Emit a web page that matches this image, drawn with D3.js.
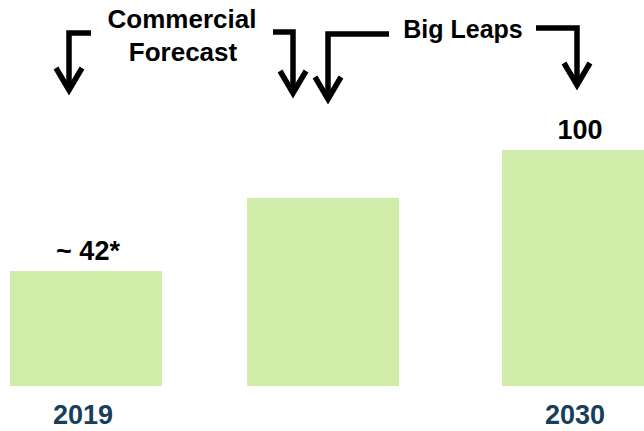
<!DOCTYPE html>
<html>
<head>
<meta charset="utf-8">
<script src="https://cdn.jsdelivr.net/npm/d3@7"></script>
<style>
  html, body { margin: 0; padding: 0; background: #fff; }
  svg { display: block; }
  text { font-family: "Liberation Sans", Arial, sans-serif; font-weight: bold; }
</style>
</head>
<body>
<script>
// Data
const categories = ["2019", "", "2030"];
const years = [2019, 2024.3, 2030];
const values = [48.7, 79.7, 100];
const valueLabels = ["~ 42*", "", "100"];
const annotations = [
  { lines: ["Commercial", "Forecast"] },
  { lines: ["Big Leaps"] }
];

const W = 644, H = 431;
const svg = d3.select("body").append("svg").attr("width", W).attr("height", H);

const x = d3.scaleLinear().domain([2019, 2030]).range([86, 578]);
const y = d3.scaleLinear().domain([0, 100]).range([386, 150]);
const barW = 152;

const data = categories.map((c, i) => ({ cat: c, year: years[i], v: values[i], lbl: valueLabels[i] }));

svg.selectAll("rect.bar").data(data).enter().append("rect")
  .attr("class", "bar")
  .attr("x", d => x(d.year) - barW / 2)
  .attr("width", barW)
  .attr("y", d => y(d.v))
  .attr("height", d => y(0) - y(d.v))
  .attr("fill", "#d1eca9");

svg.selectAll("text.val").data(data).enter().append("text")
  .attr("class", "val")
  .attr("x", d => x(d.year) + 2)
  .attr("y", d => y(d.v) - 11)
  .attr("text-anchor", "middle")
  .attr("font-size", 27)
  .attr("fill", "#000")
  .text(d => d.lbl);

svg.selectAll("text.cat").data(data).enter().append("text")
  .attr("class", "cat")
  .attr("x", d => x(d.year) - 3)
  .attr("y", 424)
  .attr("text-anchor", "middle")
  .attr("font-size", 27)
  .attr("fill", "#173f5a")
  .text(d => d.cat);

// Annotation labels
const ann1 = svg.append("text").attr("text-anchor", "middle").attr("font-size", 26).attr("fill", "#000");
ann1.append("tspan").attr("x", 182).attr("y", 28).text(annotations[0].lines[0]);
ann1.append("tspan").attr("x", 183).attr("y", 61).text(annotations[0].lines[1]);
svg.append("text").attr("text-anchor", "middle").attr("font-size", 25).attr("fill", "#000")
  .attr("x", 463).attr("y", 38).text(annotations[1].lines[0]);

// Arrows
const arrows = [
  { path: [[91, 33], [69, 33], [69, 89]], tip: [69, 90] },
  { path: [[273, 32], [293, 32], [293, 92]], tip: [293, 93] },
  { path: [[389, 34], [328, 34], [328, 98]], tip: [328, 99] },
  { path: [[536, 28], [577, 28], [577, 84]], tip: [577, 85] }
];
const line = d3.line();
arrows.forEach(a => {
  svg.append("path").attr("d", line(a.path))
    .attr("fill", "none").attr("stroke", "#000").attr("stroke-width", 5.5)
    .attr("stroke-linejoin", "miter");
  const [tx, ty] = a.tip;
  svg.append("path").attr("d", line([[tx - 13, ty - 22], [tx, ty], [tx + 13, ty - 22]]))
    .attr("fill", "none").attr("stroke", "#000").attr("stroke-width", 5.5)
    .attr("stroke-linejoin", "miter").attr("stroke-miterlimit", 10);
});
</script>
</body>
</html>
